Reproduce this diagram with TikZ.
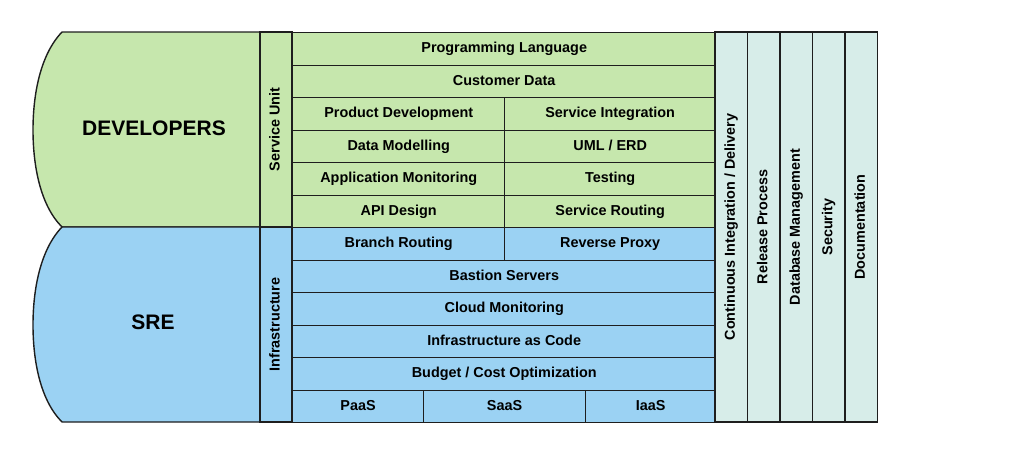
\documentclass[tikz,border=0pt]{standalone}
\usepackage{fontspec}
\setmainfont{Liberation Sans}
\definecolor{devgreen}{HTML}{C6E7AD}
\definecolor{sreblue}{HTML}{9BD2F3}
\definecolor{colteal}{HTML}{D7EDE9}
\definecolor{edge}{HTML}{1E1E1E}
\tikzset{
  cell/.style={draw=edge, line width=1.4pt, inner sep=0pt, anchor=north west,
    text height=10.3pt, text depth=3pt,
    font=\bfseries\fontsize{14.4}{16}\selectfont},
  dev/.style={cell, fill=devgreen},
  sre/.style={cell, fill=sreblue},
  vcol/.style={cell, fill=colteal, rotate=90},
  big/.style={font=\bfseries\fontsize{21}{24}\selectfont},
}
\begin{document}
\begin{tikzpicture}[x=1pt,y=-1pt]
\useasboundingbox (0,0) rectangle (1024,455);
% left shapes
\draw[edge, line width=1.4pt, fill=devgreen] (260,32) -- (62,32)
  .. controls (40,55) and (33,95) .. (33,130)
  .. controls (33,165) and (40,205) .. (62,227) -- (260,227) -- cycle;
\draw[edge, line width=1.4pt, fill=sreblue] (260,227) -- (62,227)
  .. controls (40,250) and (33,290) .. (33,325)
  .. controls (33,360) and (40,400) .. (62,422) -- (260,422) -- cycle;
\node[big] (developers) at (154,128) {DEVELOPERS};
\node[big] (sre) at (153,322) {SRE};
% side columns
\node[dev, rotate=90, anchor=center, minimum width=195pt, minimum height=32pt] (su) at (276,129.5) {Service Unit};
\node[sre, rotate=90, anchor=center, minimum width=195pt, minimum height=32pt] (infra) at (276,324.5) {Infrastructure};
% developer rows
\node[dev, minimum width=423pt, minimum height=32.5pt] (pl) at (292,32) {Programming Language};
\node[dev, minimum width=423pt, minimum height=32.5pt] (cd) at (292,64.5) {Customer Data};
\node[dev, minimum width=212pt, minimum height=32.5pt] (pd) at (292,97) {Product Development};
\node[dev, minimum width=211pt, minimum height=32.5pt] (si) at (504,97) {Service Integration};
\node[dev, minimum width=212pt, minimum height=32.5pt] (dm) at (292,129.5) {Data Modelling};
\node[dev, minimum width=211pt, minimum height=32.5pt] (uml) at (504,129.5) {UML / ERD};
\node[dev, minimum width=212pt, minimum height=32.5pt] (am) at (292,162) {Application Monitoring};
\node[dev, minimum width=211pt, minimum height=32.5pt] (te) at (504,162) {Testing};
\node[dev, minimum width=212pt, minimum height=32.5pt] (api) at (292,194.5) {API Design};
\node[dev, minimum width=211pt, minimum height=32.5pt] (sr) at (504,194.5) {Service Routing};
% sre rows
\node[sre, minimum width=212pt, minimum height=32.5pt] (br) at (292,227) {Branch Routing};
\node[sre, minimum width=211pt, minimum height=32.5pt] (rp) at (504,227) {Reverse Proxy};
\node[sre, minimum width=423pt, minimum height=32.5pt] (bs) at (292,259.5) {Bastion Servers};
\node[sre, minimum width=423pt, minimum height=32.5pt] (cm) at (292,292) {Cloud Monitoring};
\node[sre, minimum width=423pt, minimum height=32.5pt] (iac) at (292,324.5) {Infrastructure as Code};
\node[sre, minimum width=423pt, minimum height=32.5pt] (bco) at (292,357) {Budget / Cost Optimization};
\node[sre, minimum width=130.7pt, minimum height=32.5pt] (paas) at (292,389.5) {PaaS};
\node[sre, minimum width=162.3pt, minimum height=32.5pt] (saas) at (422.7,389.5) {SaaS};
\node[sre, minimum width=130pt, minimum height=32.5pt] (iaas) at (585,389.5) {IaaS};
% right columns
\node[vcol, anchor=center, minimum width=390pt, minimum height=32.5pt] (ci) at (731.25,227) {Continuous Integration / Delivery};
\node[vcol, anchor=center, minimum width=390pt, minimum height=32.5pt] (rel) at (763.75,227) {Release Process};
\node[vcol, anchor=center, minimum width=390pt, minimum height=32.5pt] (dbm) at (796.25,227) {Database Management};
\node[vcol, anchor=center, minimum width=390pt, minimum height=32.5pt] (sec) at (828.75,227) {Security};
\node[vcol, anchor=center, minimum width=390pt, minimum height=32.5pt] (doc) at (861.25,227) {Documentation};
\end{tikzpicture}
\end{document}
